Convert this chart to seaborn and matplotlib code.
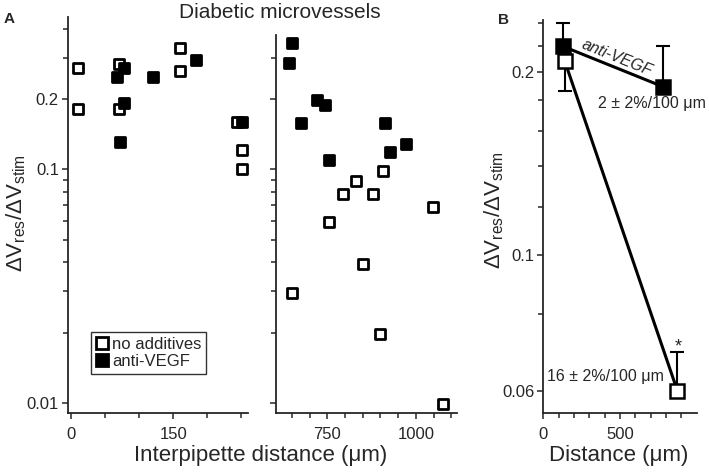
import numpy as np
import pandas as pd
import matplotlib
matplotlib.use("Agg")
import matplotlib.pyplot as plt
import seaborn as sns
from matplotlib.lines import Line2D
from matplotlib.ticker import NullFormatter

# Panel A: individual microvessels (interpipette distance in um, dV_res/dV_stim)
none_x = [10, 10, 70, 70, 160, 160, 244, 251, 251, 651, 756, 793, 830, 852, 879, 899, 907, 1049, 1077]
none_y = [0.27, 0.181, 0.281, 0.181, 0.331, 0.263, 0.16, 0.121, 0.100,
          0.0296, 0.0596, 0.0787, 0.0889, 0.0395, 0.0787, 0.0197, 0.098, 0.069, 0.0099]
vegf_x = [67, 78, 77, 72, 120, 184, 251, 651, 642, 720, 744, 676, 912, 972, 928, 756]
vegf_y = [0.249, 0.27, 0.192, 0.131, 0.249, 0.292, 0.16, 0.346, 0.286, 0.198,
          0.188, 0.157, 0.157, 0.128, 0.118, 0.109]

# Panel B: means with one-sided error bars
b_none_x = [140, 874]
b_none_y = [0.208, 0.060]
b_none_err = [[0.022, 0.0], [0.0, 0.0095]]
b_vegf_x = [128, 779]
b_vegf_y = [0.220, 0.189]
b_vegf_err = [[0.0, 0.0], [0.020, 0.031]]

df_none = pd.DataFrame({"dist": none_x, "ratio": none_y})
df_vegf = pd.DataFrame({"dist": vegf_x, "ratio": vegf_y})
dfb_none = pd.DataFrame({"dist": b_none_x, "ratio": b_none_y})
dfb_vegf = pd.DataFrame({"dist": b_vegf_x, "ratio": b_vegf_y})

sns.set_style("ticks")
plt.rcParams["font.family"] = ["Liberation Sans", "DejaVu Sans"]
plt.rcParams["mathtext.fontset"] = "custom"
plt.rcParams["mathtext.rm"] = "Liberation Sans"
plt.rcParams["mathtext.it"] = "Liberation Sans:italic"
plt.rcParams["axes.linewidth"] = 1.3
for k in ["xtick.major.width", "ytick.major.width", "xtick.minor.width", "ytick.minor.width"]:
    plt.rcParams[k] = 1.1
plt.rcParams["xtick.major.size"] = 4
plt.rcParams["ytick.major.size"] = 4
plt.rcParams["xtick.minor.size"] = 3.5
plt.rcParams["ytick.minor.size"] = 3.5
plt.rcParams["xtick.labelsize"] = 12
plt.rcParams["ytick.labelsize"] = 12
plt.rcParams["xtick.major.pad"] = 6
plt.rcParams["ytick.major.pad"] = 2.5

W, H = 709, 472
fig = plt.figure(figsize=(7.09, 4.72), dpi=100)
axL = fig.add_axes([68 / W, 1 - 413 / H, 180 / W, 396 / H])
axR = fig.add_axes([276 / W, 1 - 413 / H, 181 / W, 396 / H])
axB = fig.add_axes([543.3 / W, 1 - 413.3 / H, 153.4 / W, 393.3 / H])

ylo, yhi = 0.00906, 0.448
for ax in (axL, axR):
    sns.scatterplot(data=df_none, x="dist", y="ratio", ax=ax, marker="s", s=60,
                    facecolor="white", edgecolor="black", linewidth=2.0, zorder=3)
    sns.scatterplot(data=df_vegf, x="dist", y="ratio", ax=ax, marker="s", s=60,
                    color="black", edgecolor="black", linewidth=2.0, zorder=4)
    ax.set_yscale("log")
    ax.set_ylim(ylo, yhi)
    ax.set_xlabel("")
    ax.set_ylabel("")
    sns.despine(ax=ax)

axL.set_xlim(-5, 260)
axL.set_xticks([0, 150])
axL.set_xticks([50, 100, 200, 250], minor=True)
axL.set_yticks([0.01, 0.1, 0.2], labels=["0.01", "0.1", "0.2"])
axL.set_yticks([0.02, 0.03, 0.04, 0.05, 0.06, 0.07, 0.08, 0.09, 0.3, 0.4], minor=True)
axL.yaxis.set_minor_formatter(NullFormatter())

axR.set_xlim(605, 1116)
axR.set_xticks([750, 1000])
axR.set_xticks([650, 700, 800, 850, 900, 950, 1050, 1100], minor=True)
axR.set_yticks([0.01, 0.1, 0.2], labels=["", "", ""])
axR.set_yticks([0.02, 0.03, 0.04, 0.05, 0.06, 0.07, 0.08, 0.09, 0.3], minor=True)
axR.yaxis.set_minor_formatter(NullFormatter())
axR.spines["left"].set_bounds(ylo, 0.375)

leg_handles = [
    Line2D([], [], marker="s", ls="none", mfc="white", mec="black", mew=2, ms=8.5),
    Line2D([], [], marker="s", ls="none", mfc="black", mec="black", mew=2, ms=8.5),
]
leg = axL.legend(leg_handles, ["no additives", "anti-VEGF"], loc="lower left",
                 bbox_to_anchor=(0.128, 0.098), borderaxespad=0, fontsize=12,
                 frameon=True, fancybox=False, edgecolor="black", handlelength=0.7,
                 handletextpad=0.25, borderpad=0.3, labelspacing=0.15)
leg.get_frame().set_linewidth(1.0)

# Panel B
axB.errorbar(b_none_x, b_none_y, yerr=b_none_err, fmt="none", ecolor="black",
             elinewidth=1.5, capsize=5, capthick=1.5, zorder=2)
axB.errorbar(b_vegf_x, b_vegf_y, yerr=b_vegf_err, fmt="none", ecolor="black",
             elinewidth=1.5, capsize=5, capthick=1.5, zorder=2)
sns.lineplot(data=dfb_none, x="dist", y="ratio", ax=axB, color="black", lw=2.2,
             marker="s", ms=9.5, mfc="white", mec="black", mew=1.8, zorder=3)
sns.lineplot(data=dfb_vegf, x="dist", y="ratio", ax=axB, color="black", lw=2.2,
             marker="s", ms=9.5, mfc="black", mec="black", mew=1.8, zorder=4)
axB.set_yscale("log")
axB.set_ylim(0.0551, 0.243)
axB.set_xlim(0, 1000)
axB.set_xticks([0, 500])
axB.set_xticks([100, 200, 300, 400, 600, 700, 800, 900], minor=True)
axB.set_yticks([0.06, 0.1, 0.2], labels=["0.06", "0.1", "0.2"])
axB.set_yticks([0.08, 0.12, 0.14, 0.16, 0.18, 0.22, 0.24], minor=True)
axB.yaxis.set_minor_formatter(NullFormatter())
axB.set_ylabel("")
axB.set_xlabel("")
sns.despine(ax=axB)

axB.text(481, 0.211, "anti-VEGF", style="italic", fontsize=11.5, rotation=-22,
         ha="center", va="center")
axB.text(709, 0.1776, "2 ± 2%/100 μm", fontsize=11.5, ha="center", va="center")
axB.text(405, 0.0633, "16 ± 2%/100 μm", fontsize=11.5, ha="center", va="center")
axB.text(877, 0.0708, "*", fontsize=13, ha="center", va="center")

ylab = r"$\Delta\mathrm{V}_{\mathrm{res}}/\Delta\mathrm{V}_{\mathrm{stim}}$"
fig.text(16 / W, 1 - 213 / H, ylab, rotation=90, ha="center", va="center", fontsize=16)
fig.text(494 / W, 1 - 210 / H, ylab, rotation=90, ha="center", va="center", fontsize=16)
fig.text(261 / W, 1 - 456 / H, "Interpipette distance (μm)", ha="center", va="center",
         fontsize=16)
fig.text(619 / W, 1 - 456 / H, "Distance (μm)", ha="center", va="center", fontsize=16)
fig.text(280 / W, 1 - 13 / H, "Diabetic microvessels", ha="center", va="center",
         fontsize=15)
fig.text(4 / W, 1 - 19 / H, "A", ha="left", va="center", fontsize=11, fontweight="bold")
fig.text(498 / W, 1 - 20 / H, "B", ha="left", va="center", fontsize=11, fontweight="bold")

fig.savefig("out.png", dpi=100)
